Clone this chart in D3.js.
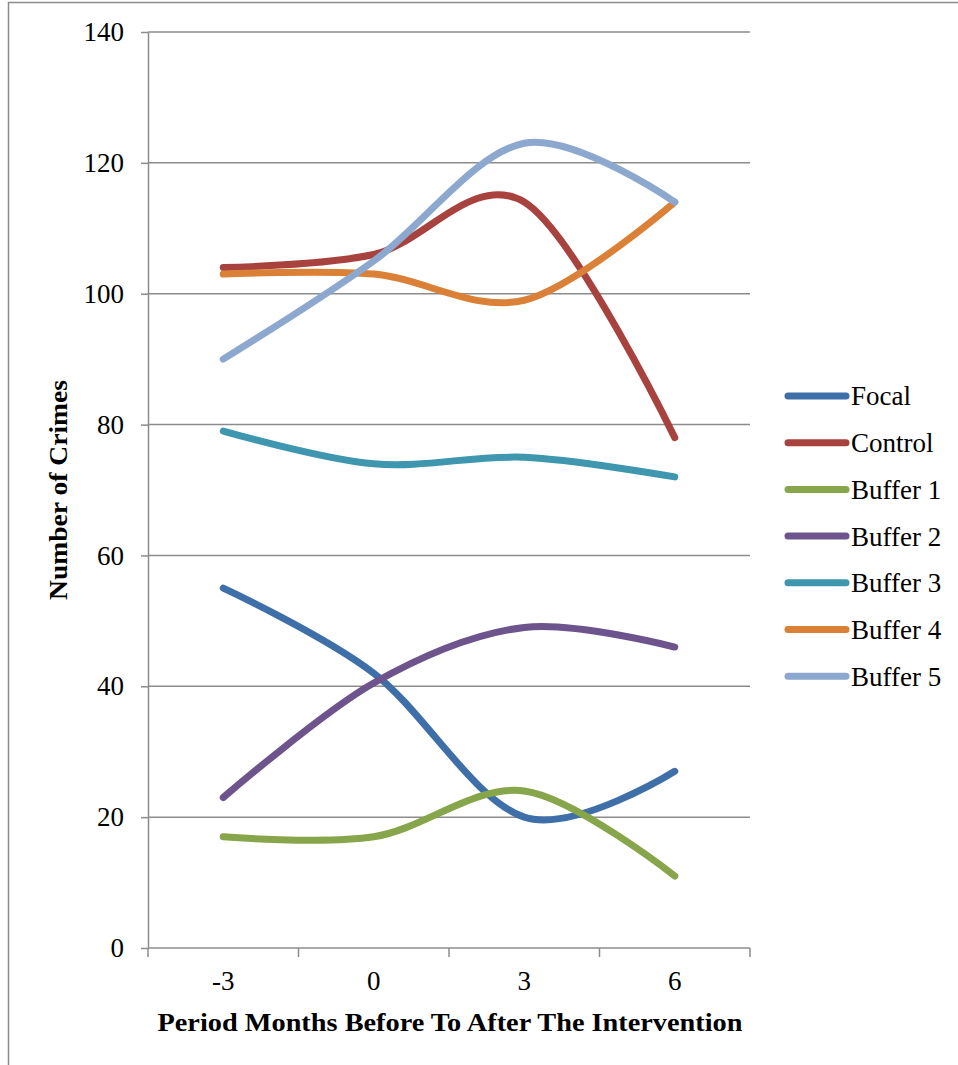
<!DOCTYPE html>
<html lang="en">
<head>
    <meta charset="UTF-8">
    <title>Number of Crimes</title>
    <script src="https://d3js.org/d3.v7.min.js"></script>
    <style>
        body { margin: 0; background: #fff; }
        svg text { font-family: "Liberation Serif", "DejaVu Serif", serif; fill: #000; }
        .grid line { stroke: #8c8c8c; stroke-width: 1.5; }
        .axis path, .axis line { stroke: #8c8c8c; stroke-width: 1.5; }
    </style>
</head>
<body>
    <svg width="958" height="1065"></svg>
    <script>
        const periods = ["-3", "0", "3", "6"];
        const seriesNames = ["Focal", "Control", "Buffer 1", "Buffer 2", "Buffer 3", "Buffer 4", "Buffer 5"];
        const focal = [55, 42, 20, 27];
        const control = [104, 106, 114, 78];
        const buffer1 = [17, 17, 24, 11];
        const buffer2 = [23, 40.5, 49, 46];
        const buffer3 = [79, 74, 75, 72];
        const buffer4 = [103, 103, 99, 114];
        const buffer5 = [90, 105, 123, 114];
        const yTicks = [0, 20, 40, 60, 80, 100, 120, 140];
        const colors = ["#3f6fa8", "#a8423f", "#87a54a", "#6e548d", "#3e96af", "#da8137", "#8da8ce"];

        const seriesValues = [focal, control, buffer1, buffer2, buffer3, buffer4, buffer5];
        const series = seriesNames.map((name, i) => ({name, values: seriesValues[i], color: colors[i]}));

        const svg = d3.select("svg");
        const margin = {top: 32, left: 148};
        const width = 602, height = 916;

        // chart frame (runs off the page on the right and bottom)
        svg.append("path")
            .attr("d", "M8.5,1065V2.5H958")
            .attr("fill", "none")
            .attr("stroke", "#8c8c8c")
            .attr("stroke-width", 1.5);

        const g = svg.append("g").attr("transform", `translate(${margin.left},${margin.top})`);

        const x = d3.scaleBand().domain(periods).range([0, width]);
        const y = d3.scaleLinear().domain([0, 140]).range([height, 0]);

        g.append("g").attr("class", "grid")
            .selectAll("line")
            .data(yTicks.filter(d => d > 0))
            .join("line")
            .attr("x1", 0).attr("x2", width)
            .attr("y1", d => y(d)).attr("y2", d => y(d));

        const yAxis = g.append("g").attr("class", "axis")
            .call(d3.axisLeft(y).tickValues(yTicks).tickSize(7).tickSizeOuter(0).tickPadding(17));
        yAxis.selectAll("text").style("font-size", "27px");

        const xAxis = g.append("g").attr("class", "axis")
            .attr("transform", `translate(0,${height})`)
            .call(d3.axisBottom(x).tickSize(0).tickPadding(23));
        xAxis.select(".domain").remove();
        xAxis.append("line").attr("x1", 0).attr("x2", width).attr("y1", 0).attr("y2", 0);
        xAxis.selectAll(".tk")
            .data(d3.range(periods.length + 1))
            .join("line")
            .attr("x1", i => i * x.step()).attr("x2", i => i * x.step())
            .attr("y1", 0).attr("y2", 9);
        xAxis.selectAll(".tick text").style("font-size", "27px");

        const line = d3.line()
            .x((d, i) => x(periods[i]) + x.bandwidth() / 2)
            .y(d => y(d))
            .curve(d3.curveCardinal.tension(0));

        g.selectAll(".series")
            .data(series)
            .join("path")
            .attr("class", "series")
            .attr("fill", "none")
            .attr("stroke", d => d.color)
            .attr("stroke-width", 7)
            .attr("stroke-linecap", "round")
            .attr("stroke-linejoin", "round")
            .attr("d", d => line(d.values));

        svg.append("text")
            .attr("transform", "translate(67,490) rotate(-90)")
            .attr("text-anchor", "middle")
            .attr("textLength", 220)
            .attr("lengthAdjust", "spacingAndGlyphs")
            .style("font-size", "25px")
            .style("font-weight", "bold")
            .text("Number of Crimes");

        svg.append("text")
            .attr("x", 450).attr("y", 1031)
            .attr("text-anchor", "middle")
            .attr("textLength", 585)
            .attr("lengthAdjust", "spacingAndGlyphs")
            .style("font-size", "26px")
            .style("font-weight", "bold")
            .text("Period Months Before To After The Intervention");

        const legend = svg.append("g").selectAll("g")
            .data(series)
            .join("g")
            .attr("transform", (d, i) => `translate(788,${396 + i * 46.7})`);
        legend.append("line")
            .attr("x1", 0).attr("x2", 58)
            .attr("stroke", d => d.color)
            .attr("stroke-width", 7)
            .attr("stroke-linecap", "round");
        legend.append("text")
            .attr("x", 63).attr("dy", "0.35em")
            .style("font-size", "27px")
            .text(d => d.name);
    </script>
</body>
</html>
